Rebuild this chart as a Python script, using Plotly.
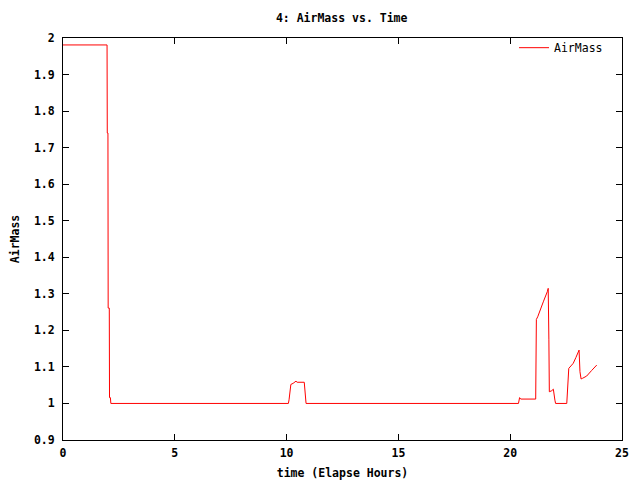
import plotly.graph_objects as go

# Elapsed time (hours) and AirMass values
time_hours = [
    0.0, 1.97, 1.98, 2.01, 2.02, 2.07, 2.08, 2.12, 2.14,
    10.08, 10.11, 10.15, 10.19, 10.29, 10.42, 10.47, 10.79, 10.87,
    20.37, 20.42, 20.47, 21.14, 21.15, 21.17, 21.23, 21.36, 21.48, 21.66, 21.70,
    21.73, 21.75, 21.86, 21.93, 22.00, 22.03, 22.53, 22.55, 22.58, 22.62,
    22.75, 22.82, 22.94, 23.02, 23.08, 23.12, 23.17, 23.24, 23.42, 23.64, 23.87,
]
airmass = [
    1.981, 1.981, 1.74, 1.74, 1.261, 1.261, 1.016, 1.016, 1.0,
    1.0, 1.01, 1.04, 1.052, 1.055, 1.061, 1.058, 1.058, 1.0,
    1.0, 1.016, 1.012, 1.012, 1.119, 1.230, 1.237, 1.260, 1.278, 1.306, 1.315,
    1.174, 1.032, 1.035, 1.039, 1.009, 1.0, 1.0, 1.023, 1.069, 1.096,
    1.105, 1.110, 1.126, 1.137, 1.146, 1.087, 1.067, 1.069, 1.075, 1.090, 1.105,
]

x_ticks = [0, 5, 10, 15, 20, 25]
y_ticks = [0.9, 1.0, 1.1, 1.2, 1.3, 1.4, 1.5, 1.6, 1.7, 1.8, 1.9, 2.0]
y_tick_labels = ["0.9", "1", "1.1", "1.2", "1.3", "1.4", "1.5", "1.6", "1.7", "1.8", "1.9", "2"]

FONT = dict(family="DejaVu Sans Mono", size=11.5, color="black")

fig = go.Figure()
fig.add_trace(go.Scatter(
    x=time_hours, y=airmass, mode="lines", name="AirMass",
    line=dict(color="#ff0000", width=1),
))

axis_common = dict(
    showgrid=False, zeroline=False, showline=True, linecolor="black", linewidth=1,
    mirror="allticks", ticks="inside", ticklen=6, tickcolor="black", tickwidth=1,
    tickfont=FONT, automargin=False,
)

# The page body has an ~8px margin, so the figure is sized/positioned to compensate.
fig.update_layout(
    width=632, height=472,
    margin=dict(l=55, r=18, t=30, b=40, autoexpand=False),
    paper_bgcolor="white", plot_bgcolor="white",
    font=FONT,
    title=dict(text="<b>4: AirMass vs. Time</b>", x=0.528, xanchor="center", y=0.979, yanchor="middle",
               font=FONT, automargin=False),
    xaxis=dict(range=[0, 25], tickvals=x_ticks, ticktext=[f"<b>{v}</b>" for v in x_ticks],
               ticklabelstandoff=2,
               title=dict(text="<b>time (Elapse Hours)</b>", font=FONT, standoff=12), **axis_common),
    yaxis=dict(range=[0.9, 2.0], tickvals=y_ticks, ticktext=[f"<b>{t}</b>" for t in y_tick_labels],
               ticklabelstandoff=5,
               title=dict(text="<b>AirMass</b>", font=FONT, standoff=14), **axis_common),
    showlegend=True,
    legend=dict(x=0.975, xanchor="right", y=1.012, yanchor="top", bgcolor="rgba(0,0,0,0)",
                font=FONT, itemwidth=30),
)

fig.write_html("out.html")
